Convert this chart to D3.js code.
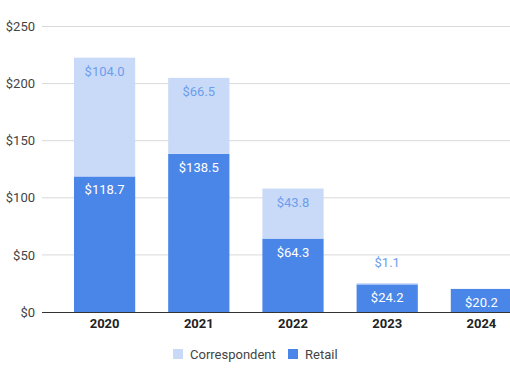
<!DOCTYPE html>
<html><head><meta charset="utf-8">
<script src="https://cdn.jsdelivr.net/npm/d3@7"></script>
<style>body{margin:0;background:#fff;}svg{display:block;font-family:Roboto,Arial,sans-serif;}</style>
</head><body>
<svg id="c" width="510" height="382"></svg>
<script>
const categories = ["2020","2021","2022","2023","2024"];
const retail = [118.7, 138.5, 64.3, 24.2, 20.2];
const correspondent = [104.0, 66.5, 43.8, 1.1, null];
const yTicks = [0, 50, 100, 150, 200, 250];
const seriesNames = ["Correspondent", "Retail"];

const svg = d3.select("#c");
const x = d3.scaleBand().domain(categories).range([57.5, 528.5]).paddingInner(0.35).paddingOuter(0.175);
const y = d3.scaleLinear().domain([0, 250]).range([312, 26.5]);
const dark = "#4a86e8", light = "#c9daf8", lightText = "#6d9eeb";

// gridlines
svg.append("g").selectAll("line").data(yTicks.filter(d => d > 0)).join("line")
  .attr("x1", 42).attr("x2", 510).attr("y1", d => y(d)).attr("y2", d => y(d))
  .attr("stroke", "#d9d9d9").attr("stroke-width", 1);

// y axis labels
const yAxis = d3.axisLeft(y).tickValues(yTicks).tickFormat(d => "$" + d).tickSize(0).tickPadding(0);
const ya = svg.append("g").attr("transform", "translate(35,0)").call(yAxis);
ya.select(".domain").remove();
ya.selectAll("text").attr("font-size", 13).attr("fill", "#444").attr("font-family", "Roboto,Arial,sans-serif");

// bars
const data = categories.map((c, i) => ({c, r: retail[i], k: correspondent[i]}));
const g = svg.append("g");
g.selectAll("rect.r").data(data).join("rect").attr("class", "r")
  .attr("x", d => x(d.c)).attr("width", x.bandwidth())
  .attr("y", d => y(d.r)).attr("height", d => y(0) - y(d.r)).attr("fill", dark);
g.selectAll("rect.k").data(data.filter(d => d.k != null)).join("rect").attr("class", "k")
  .attr("x", d => x(d.c)).attr("width", x.bandwidth())
  .attr("y", d => y(d.r + d.k)).attr("height", d => y(d.r) - y(d.r + d.k)).attr("fill", light);

// labels
g.selectAll("text.r").data(data).join("text").attr("class", "r")
  .attr("x", d => x(d.c) + x.bandwidth() / 2).attr("y", d => y(d.r) + 18)
  .attr("text-anchor", "middle").attr("font-size", 13).attr("fill", "#fff")
  .text(d => "$" + d.r.toFixed(1));
g.selectAll("text.k").data(data.filter(d => d.k != null)).join("text").attr("class", "k")
  .attr("x", d => x(d.c) + x.bandwidth() / 2)
  .attr("y", d => (y(d.r) - y(d.r + d.k) < 24) ? y(d.r + d.k) - 16 : y(d.r + d.k) + 18)
  .attr("text-anchor", "middle").attr("font-size", 13).attr("fill", lightText)
  .text(d => "$" + d.k.toFixed(1));

// x axis
svg.append("line").attr("x1", 42).attr("x2", 510).attr("y1", 312.5).attr("y2", 312.5).attr("stroke", "#333").attr("stroke-width", 1);
const xAxis = d3.axisBottom(x).tickSize(0).tickPadding(0);
const xa = svg.append("g").attr("transform", "translate(0,319)").call(xAxis);
xa.select(".domain").remove();
xa.selectAll("text").attr("font-size", 13).attr("font-weight", "bold").attr("fill", "#222").attr("font-family", "Roboto,Arial,sans-serif");

// legend
const leg = svg.append("g");
const items = [{n: seriesNames[0], c: light, x: 173}, {n: seriesNames[1], c: dark, x: 288}];
items.forEach(it => {
  leg.append("rect").attr("x", it.x).attr("y", 349).attr("width", 10).attr("height", 10).attr("fill", it.c);
  leg.append("text").attr("x", it.x + 17).attr("y", 359).attr("font-size", 13).attr("fill", "#444").text(it.n);
});
</script>
</body></html>
